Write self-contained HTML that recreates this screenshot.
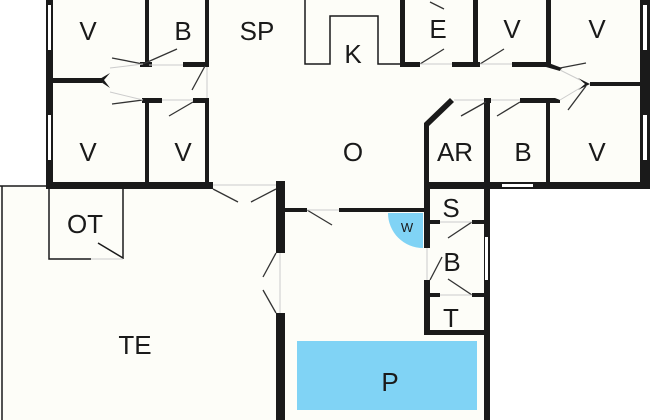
<!DOCTYPE html>
<html><head><style>
html,body{margin:0;padding:0;background:#fff;}
svg{display:block;}
text{font-family:"Liberation Sans",sans-serif;fill:#1a1a1a;text-anchor:middle;}
</style></head><body>
<svg width="650" height="420" viewBox="0 0 650 420" xmlns="http://www.w3.org/2000/svg">
<rect x="48" y="0" width="598" height="187" fill="#fdfdf8"/>
<rect x="0" y="186" width="282" height="234" fill="#fdfdf8"/>
<rect x="280" y="186" width="208" height="234" fill="#fdfdf8"/>
<rect x="297" y="341" width="180" height="69" fill="#80d3f5"/>
<path d="M423 213 L423 248 A35 35 0 0 1 388 213 Z" fill="#80d3f5"/>
<g fill="#1a1a1a">
<rect x="46" y="0" width="7" height="189"/>
<rect x="145" y="0" width="4" height="66"/>
<rect x="205" y="0" width="4" height="66"/>
<rect x="140" y="62" width="12" height="5"/>
<rect x="183" y="62" width="26" height="5"/>
<rect x="50" y="78" width="52" height="5"/>
<path d="M98 80 L110 73 L104 80 L110 88 Z"/>
<rect x="142" y="98" width="20" height="5"/>
<rect x="193" y="98" width="16" height="5"/>
<rect x="145" y="98" width="4" height="86"/>
<rect x="205" y="98" width="4" height="86"/>
<rect x="46" y="182" width="167" height="7"/>
<rect x="276" y="181" width="9" height="72"/>
<rect x="276" y="313" width="9" height="107"/>
<rect x="285" y="208" width="22" height="4"/>
<rect x="339" y="208" width="88" height="4"/>
<rect x="400" y="0" width="5" height="66"/>
<rect x="473" y="0" width="5" height="66"/>
<rect x="546" y="0" width="5" height="66"/>
<rect x="400" y="62" width="20" height="5"/>
<rect x="452" y="62" width="28" height="5"/>
<rect x="512" y="62" width="38" height="5"/>
<path d="M546 62 L562 68 L560 71 L546 67 Z"/>
<rect x="640" y="0" width="10" height="189"/>
<rect x="590" y="82" width="54" height="4"/>
<path d="M590 84 L578 78 L585 84 L578 90 Z"/>
<rect x="520" y="98" width="35" height="5"/>
<path d="M555 98 L560 100 L560 103 L555 103 Z"/>
<rect x="484" y="98" width="7" height="5"/>
<path d="M450 98 L454 102 L429 126 L429 210 L424 210 L424 123 Z"/>
<rect x="484" y="98" width="6" height="322"/>
<rect x="546" y="100" width="4" height="85"/>
<rect x="424" y="182" width="226" height="7"/>
<rect x="424" y="182" width="6" height="66"/>
<rect x="424" y="280" width="6" height="55"/>
<rect x="429" y="220" width="11" height="4"/>
<rect x="472" y="220" width="12" height="4"/>
<rect x="429" y="293" width="11" height="4"/>
<rect x="472" y="293" width="12" height="4"/>
<rect x="424" y="330" width="64" height="5"/>
</g>
<g fill="#fff">
<rect x="48" y="5" width="3" height="45"/>
<rect x="48" y="115" width="3" height="45"/>
<rect x="643" y="5" width="4" height="45"/>
<rect x="643" y="115" width="4" height="45"/>
<rect x="502" y="184" width="31" height="3"/>
<rect x="485" y="237" width="3" height="43"/>
</g>
<g stroke="#1a1a1a" stroke-width="1.5" fill="none">
<path d="M305 0 V64 H330 V16 H378 V64 H400"/>
<path d="M0 186 H47"/>
<path d="M2 186 V420"/>
<path d="M49 189 V259 H91"/>
<path d="M123 189 V259"/>
<path d="M98 243 L123 258"/>
</g>
<g stroke="#333" stroke-width="1.3">
<line x1="143" y1="64" x2="177" y2="49"/>
<line x1="143" y1="64" x2="112" y2="58"/>
<line x1="205" y1="66" x2="192" y2="90"/>
<line x1="143" y1="100" x2="112" y2="104"/>
<line x1="193" y1="102" x2="169" y2="116"/>
<line x1="213" y1="189" x2="238" y2="202"/>
<line x1="276" y1="189" x2="251" y2="202"/>
<line x1="307" y1="210" x2="332" y2="225"/>
<line x1="276" y1="253" x2="263" y2="277"/>
<line x1="276" y1="313" x2="263" y2="290"/>
<line x1="420" y1="64" x2="444" y2="49"/>
<line x1="480" y1="64" x2="504" y2="49"/>
<line x1="560" y1="68" x2="586" y2="63"/>
<line x1="586" y1="86" x2="568" y2="110"/>
<line x1="486" y1="102" x2="461" y2="116"/>
<line x1="520" y1="102" x2="497" y2="116"/>
<line x1="472" y1="222" x2="448" y2="238"/>
<line x1="430" y1="280" x2="442" y2="257"/>
<line x1="472" y1="295" x2="448" y2="279"/>
<line x1="430" y1="2" x2="444" y2="9"/>
</g>
<g stroke="#ccc" stroke-width="1">
<line x1="149" y1="65" x2="183" y2="65"/>
<line x1="162" y1="100" x2="193" y2="100"/>
<line x1="207" y1="67" x2="207" y2="98"/>
<line x1="213" y1="185" x2="276" y2="185"/>
<line x1="307" y1="210" x2="339" y2="210"/>
<line x1="280" y1="253" x2="280" y2="313"/>
<line x1="420" y1="64" x2="452" y2="64"/>
<line x1="480" y1="64" x2="512" y2="64"/>
<line x1="454" y1="100" x2="484" y2="100"/>
<line x1="491" y1="100" x2="520" y2="100"/>
<line x1="440" y1="222" x2="472" y2="222"/>
<line x1="440" y1="295" x2="472" y2="295"/>
<line x1="427" y1="248" x2="427" y2="280"/>
<line x1="91" y1="259" x2="123" y2="259"/>
<line x1="110" y1="68" x2="143" y2="64"/>
<line x1="110" y1="92" x2="143" y2="100"/>
<line x1="560" y1="70" x2="580" y2="80"/>
<line x1="560" y1="100" x2="580" y2="88"/>
</g>
<g font-size="26">
<text x="88" y="40">V</text>
<text x="183" y="40">B</text>
<text x="257" y="40">SP</text>
<text x="353" y="63">K</text>
<text x="438" y="38">E</text>
<text x="512" y="38">V</text>
<text x="597" y="38">V</text>
<text x="88" y="161">V</text>
<text x="183" y="161">V</text>
<text x="353" y="161">O</text>
<text x="455" y="161">AR</text>
<text x="523" y="161">B</text>
<text x="597" y="161">V</text>
<text x="85" y="233">OT</text>
<text x="135" y="354">TE</text>
<text x="451" y="217">S</text>
<text x="452" y="271">B</text>
<text x="451" y="327">T</text>
<text x="390" y="391">P</text>
</g>
<text x="407" y="232" font-size="13">W</text>
</svg>
</body></html>
